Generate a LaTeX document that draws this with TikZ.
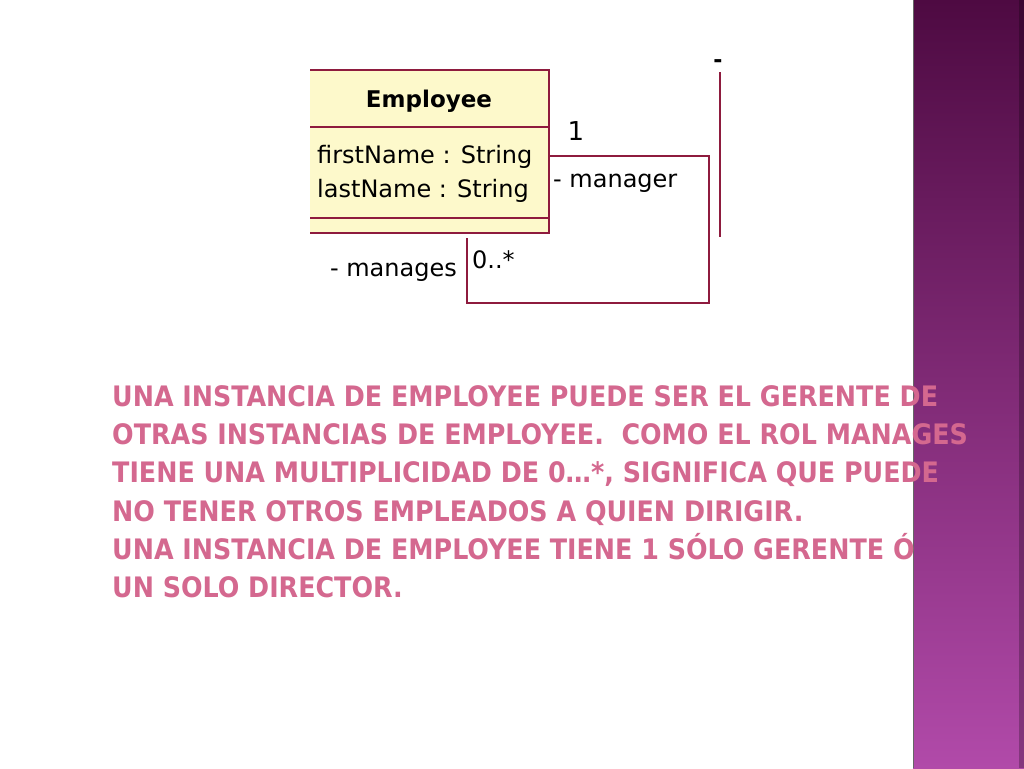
\documentclass[tikz,border=0pt]{standalone}
\usepackage{fontspec}
\setmainfont{DejaVu Sans}
\newfontfamily\bodyfont{DejaVu Sans Condensed}
\usetikzlibrary{positioning}
\definecolor{umlred}{HTML}{8E1B3E}
\definecolor{classfill}{HTML}{FDF9CB}
\definecolor{notepink}{HTML}{D4688F}
\definecolor{bartop}{HTML}{4E0A42}
\definecolor{barbot}{HTML}{B14AA9}
\tikzset{
  umlline/.style={draw=umlred, line width=1.6pt},
  umltext/.style={font=\fontsize{24}{26}\selectfont, inner sep=0pt, text=black},
  roletext/.style={umltext, anchor=west},
  notetext/.style={font=\bodyfont\bfseries\fontsize{28.2}{38.3}\selectfont, text=notepink,
    anchor=north west, inner sep=0pt, align=left}
}
\begin{document}
\begin{tikzpicture}[x=1pt, y=-1pt]
        \useasboundingbox (0,0) rectangle (1024,768);
        % Draw the side bar
        \shade[top color=bartop, bottom color=barbot] (913,0) rectangle (1024,768);
        \fill[black, opacity=0.25] (1019,0) rectangle (1024,768);
        \draw[black!60, line width=1pt] (913.5,0) -- (913.5,768);
        % Draw the class box
        \coordinate (clsNW) at (310,70);
        \coordinate (clsNE) at (549,70);
        \coordinate (clsSE) at (549,233);
        \coordinate (clsSW) at (310,233);
        \fill[classfill] (clsNW) rectangle (clsSE);
        \draw[umlline] (clsNW) -- (clsNE) -- (clsSE) -- (clsSW);
        \draw[umlline] (310,127) -- (549,127);
        \draw[umlline] (310,218) -- (549,218);
        \node[umltext, font=\bfseries\fontsize{23}{26}\selectfont] (emp) at (429,101) {Employee};
        \node[roletext] (first) at (317,157) {firstName : String};
        \node[roletext] (last) at (317,191) {lastName : String};
        % Draw the self association
        \coordinate (mgrEnd) at (549,156);
        \coordinate (cornA) at (709,156);
        \coordinate (cornB) at (709,303);
        \coordinate (cornC) at (467,303);
        \coordinate (mgsEnd) at (467,238);
        \draw[umlline] (mgrEnd) -- (cornA) -- (cornB) -- (cornC) -- (mgsEnd);
        % Label the roles
        \node[umltext, font=\fontsize{26}{28}\selectfont] (multOne) at (576,131) {1};
        \node[roletext] (manager) at (553,183) {- manager};
        \node[roletext] (multMany) at (472,260) {0..*};
        \node[umltext, anchor=east] (manages) at (457,272) {- manages};
        % Draw the cut line on the right
        \coordinate (cutTop) at (720,72);
        \coordinate (cutBot) at (720,237);
        \draw[umlline] (cutTop) -- (cutBot);
        \node[umltext, font=\bfseries\fontsize{22}{24}\selectfont] (cutDash) at (718,64) {-};
        % Write the note
        \node[notetext] (note) at (112,385) {UNA INSTANCIA DE EMPLOYEE PUEDE SER EL GERENTE DE\\
          OTRAS INSTANCIAS DE EMPLOYEE.\ \ COMO EL ROL MANAGES\\
          TIENE UNA MULTIPLICIDAD DE 0…*, SIGNIFICA QUE PUEDE\\
          NO TENER OTROS EMPLEADOS A QUIEN DIRIGIR.\\
          UNA INSTANCIA DE EMPLOYEE TIENE 1 SÓLO GERENTE Ó\\
          UN SOLO DIRECTOR.};
    \end{tikzpicture}
\end{document}
